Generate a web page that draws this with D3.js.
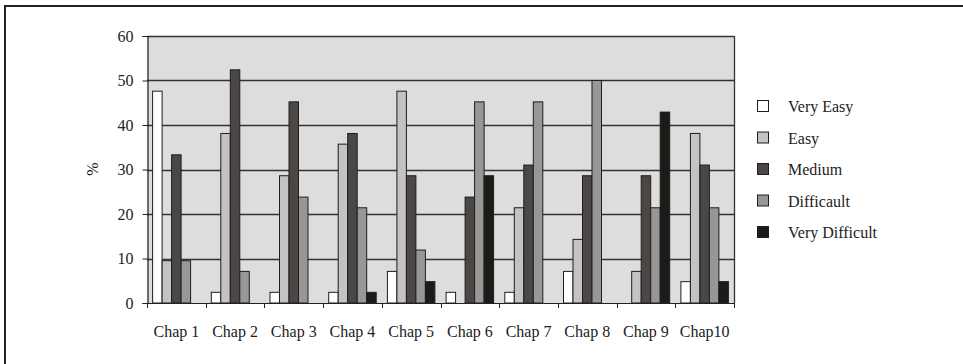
<!DOCTYPE html>
<html>
<head>
<meta charset="utf-8">
<script src="https://cdn.jsdelivr.net/npm/d3@7"></script>
<style>
  html, body { margin: 0; padding: 0; background: #fff; }
  svg { display: block; }
  text { font-family: "Liberation Serif", "Times New Roman", serif; fill: #222; }
</style>
</head>
<body>
<svg id="chart" width="963" height="364"></svg>
<script>
const categories = ["Chap 1","Chap 2","Chap 3","Chap 4","Chap 5","Chap 6","Chap 7","Chap 8","Chap 9","Chap10"];
const seriesNames = ["Very Easy","Easy","Medium","Difficault","Very Difficult"];
const veryEasy      = [47.6, 2.4, 2.4, 2.4, 7.1, 2.4, 2.4, 7.1, 0, 4.8];
const easy          = [9.5, 38.1, 28.6, 35.7, 47.6, 0, 21.4, 14.3, 7.1, 38.1];
const medium        = [33.3, 52.4, 45.2, 38.1, 28.6, 23.8, 31.0, 28.6, 28.6, 31.0];
const difficult     = [9.5, 7.1, 23.8, 21.4, 11.9, 45.2, 45.2, 50.0, 21.4, 21.4];
const veryDifficult = [0, 0, 0, 2.4, 4.8, 28.6, 0, 0, 42.9, 4.8];
const yTicks = [0, 10, 20, 30, 40, 50, 60];
const colors = ["#ffffff", "#c3c3c3", "#4c4744", "#979797", "#1e1a17"];

const seriesValues = [veryEasy, easy, medium, difficult, veryDifficult];

const svg = d3.select("#chart");
const pLeft = 147, pRight = 734, pTop = 36, pBottom = 303;

// outer frame (top and left edges visible)
svg.append("line").attr("x1", 5).attr("x2", 963).attr("y1", 6).attr("y2", 6)
  .attr("stroke", "#222").attr("stroke-width", 2);
svg.append("line").attr("x1", 5).attr("x2", 5).attr("y1", 5).attr("y2", 364)
  .attr("stroke", "#222").attr("stroke-width", 2);

const x = d3.scaleBand().domain(categories).range([pLeft, pRight]).paddingInner(0).paddingOuter(0);
const xs = d3.scaleBand().domain(seriesNames).range([0, x.bandwidth()]).paddingInner(0).paddingOuter(0.59);
const y = d3.scaleLinear().domain([0, 60]).range([pBottom, pTop]);

// plot background
svg.append("rect").attr("x", pLeft).attr("y", pTop).attr("width", pRight - pLeft).attr("height", pBottom - pTop)
  .attr("fill", "#dddddd");

// gridlines
svg.append("g").selectAll("line").data(yTicks.filter(t => t > 0)).join("line")
  .attr("x1", pLeft).attr("x2", pRight)
  .attr("y1", d => Math.round(y(d)) + 0.5).attr("y2", d => Math.round(y(d)) + 0.5)
  .attr("stroke", "#333").attr("stroke-width", 1.3);

// right border
svg.append("line").attr("x1", pRight + 0.5).attr("x2", pRight + 0.5).attr("y1", pTop).attr("y2", pBottom)
  .attr("stroke", "#333").attr("stroke-width", 1.3);

// bars
const barData = [];
categories.forEach((c, i) => {
  seriesNames.forEach((s, j) => {
    barData.push({ c, s, j, v: seriesValues[j][i] });
  });
});
svg.append("g").selectAll("rect").data(barData.filter(d => d.v > 0)).join("rect")
  .attr("x", d => x(d.c) + xs(d.s))
  .attr("y", d => y(d.v))
  .attr("width", xs.bandwidth())
  .attr("height", d => y(0) - y(d.v))
  .attr("fill", d => colors[d.j])
  .attr("stroke", "#1e1e1e").attr("stroke-width", 1);

// y axis
const yAxis = d3.axisLeft(y).tickValues(yTicks).tickSize(5).tickPadding(9).tickFormat(d3.format("d"));
const gy = svg.append("g").attr("transform", `translate(${pLeft + 0.5},0)`).call(yAxis);
gy.select(".domain").attr("stroke", "#222").attr("stroke-width", 1.2);
gy.selectAll(".tick line").attr("stroke", "#222");
gy.selectAll(".tick text").attr("font-size", 16).attr("fill", "#222")
  .style("font-family", "'Liberation Serif', 'Times New Roman', serif");

// x axis
const tickPositions = categories.map(c => x(c)).concat([pRight]);
const gx = svg.append("g");
gx.append("line").attr("x1", pLeft).attr("x2", pRight).attr("y1", pBottom + 0.5).attr("y2", pBottom + 0.5)
  .attr("stroke", "#222").attr("stroke-width", 1.2);
gx.selectAll("line.t").data(tickPositions).join("line").attr("class", "t")
  .attr("x1", d => Math.round(d) + 0.5).attr("x2", d => Math.round(d) + 0.5)
  .attr("y1", pBottom).attr("y2", pBottom + 5).attr("stroke", "#222");
gx.selectAll("text").data(categories).join("text")
  .attr("x", d => x(d) + x.bandwidth() / 2)
  .attr("y", 337)
  .attr("text-anchor", "middle")
  .attr("font-size", 16)
  .text(d => d);

// y axis title
svg.append("text").attr("transform", "translate(98,169) rotate(-90)")
  .attr("text-anchor", "middle").attr("font-size", 16).text("%");

// legend
const lg = svg.append("g");
seriesNames.forEach((s, j) => {
  const cy = 106.5 + j * 31.5;
  lg.append("rect").attr("x", 757.5).attr("y", cy - 6).attr("width", 11).attr("height", 11)
    .attr("fill", colors[j]).attr("stroke", "#1e1e1e").attr("stroke-width", 1);
  lg.append("text").attr("x", 788).attr("y", cy + 5.5).attr("font-size", 16).text(s);
});
</script>
</body>
</html>
